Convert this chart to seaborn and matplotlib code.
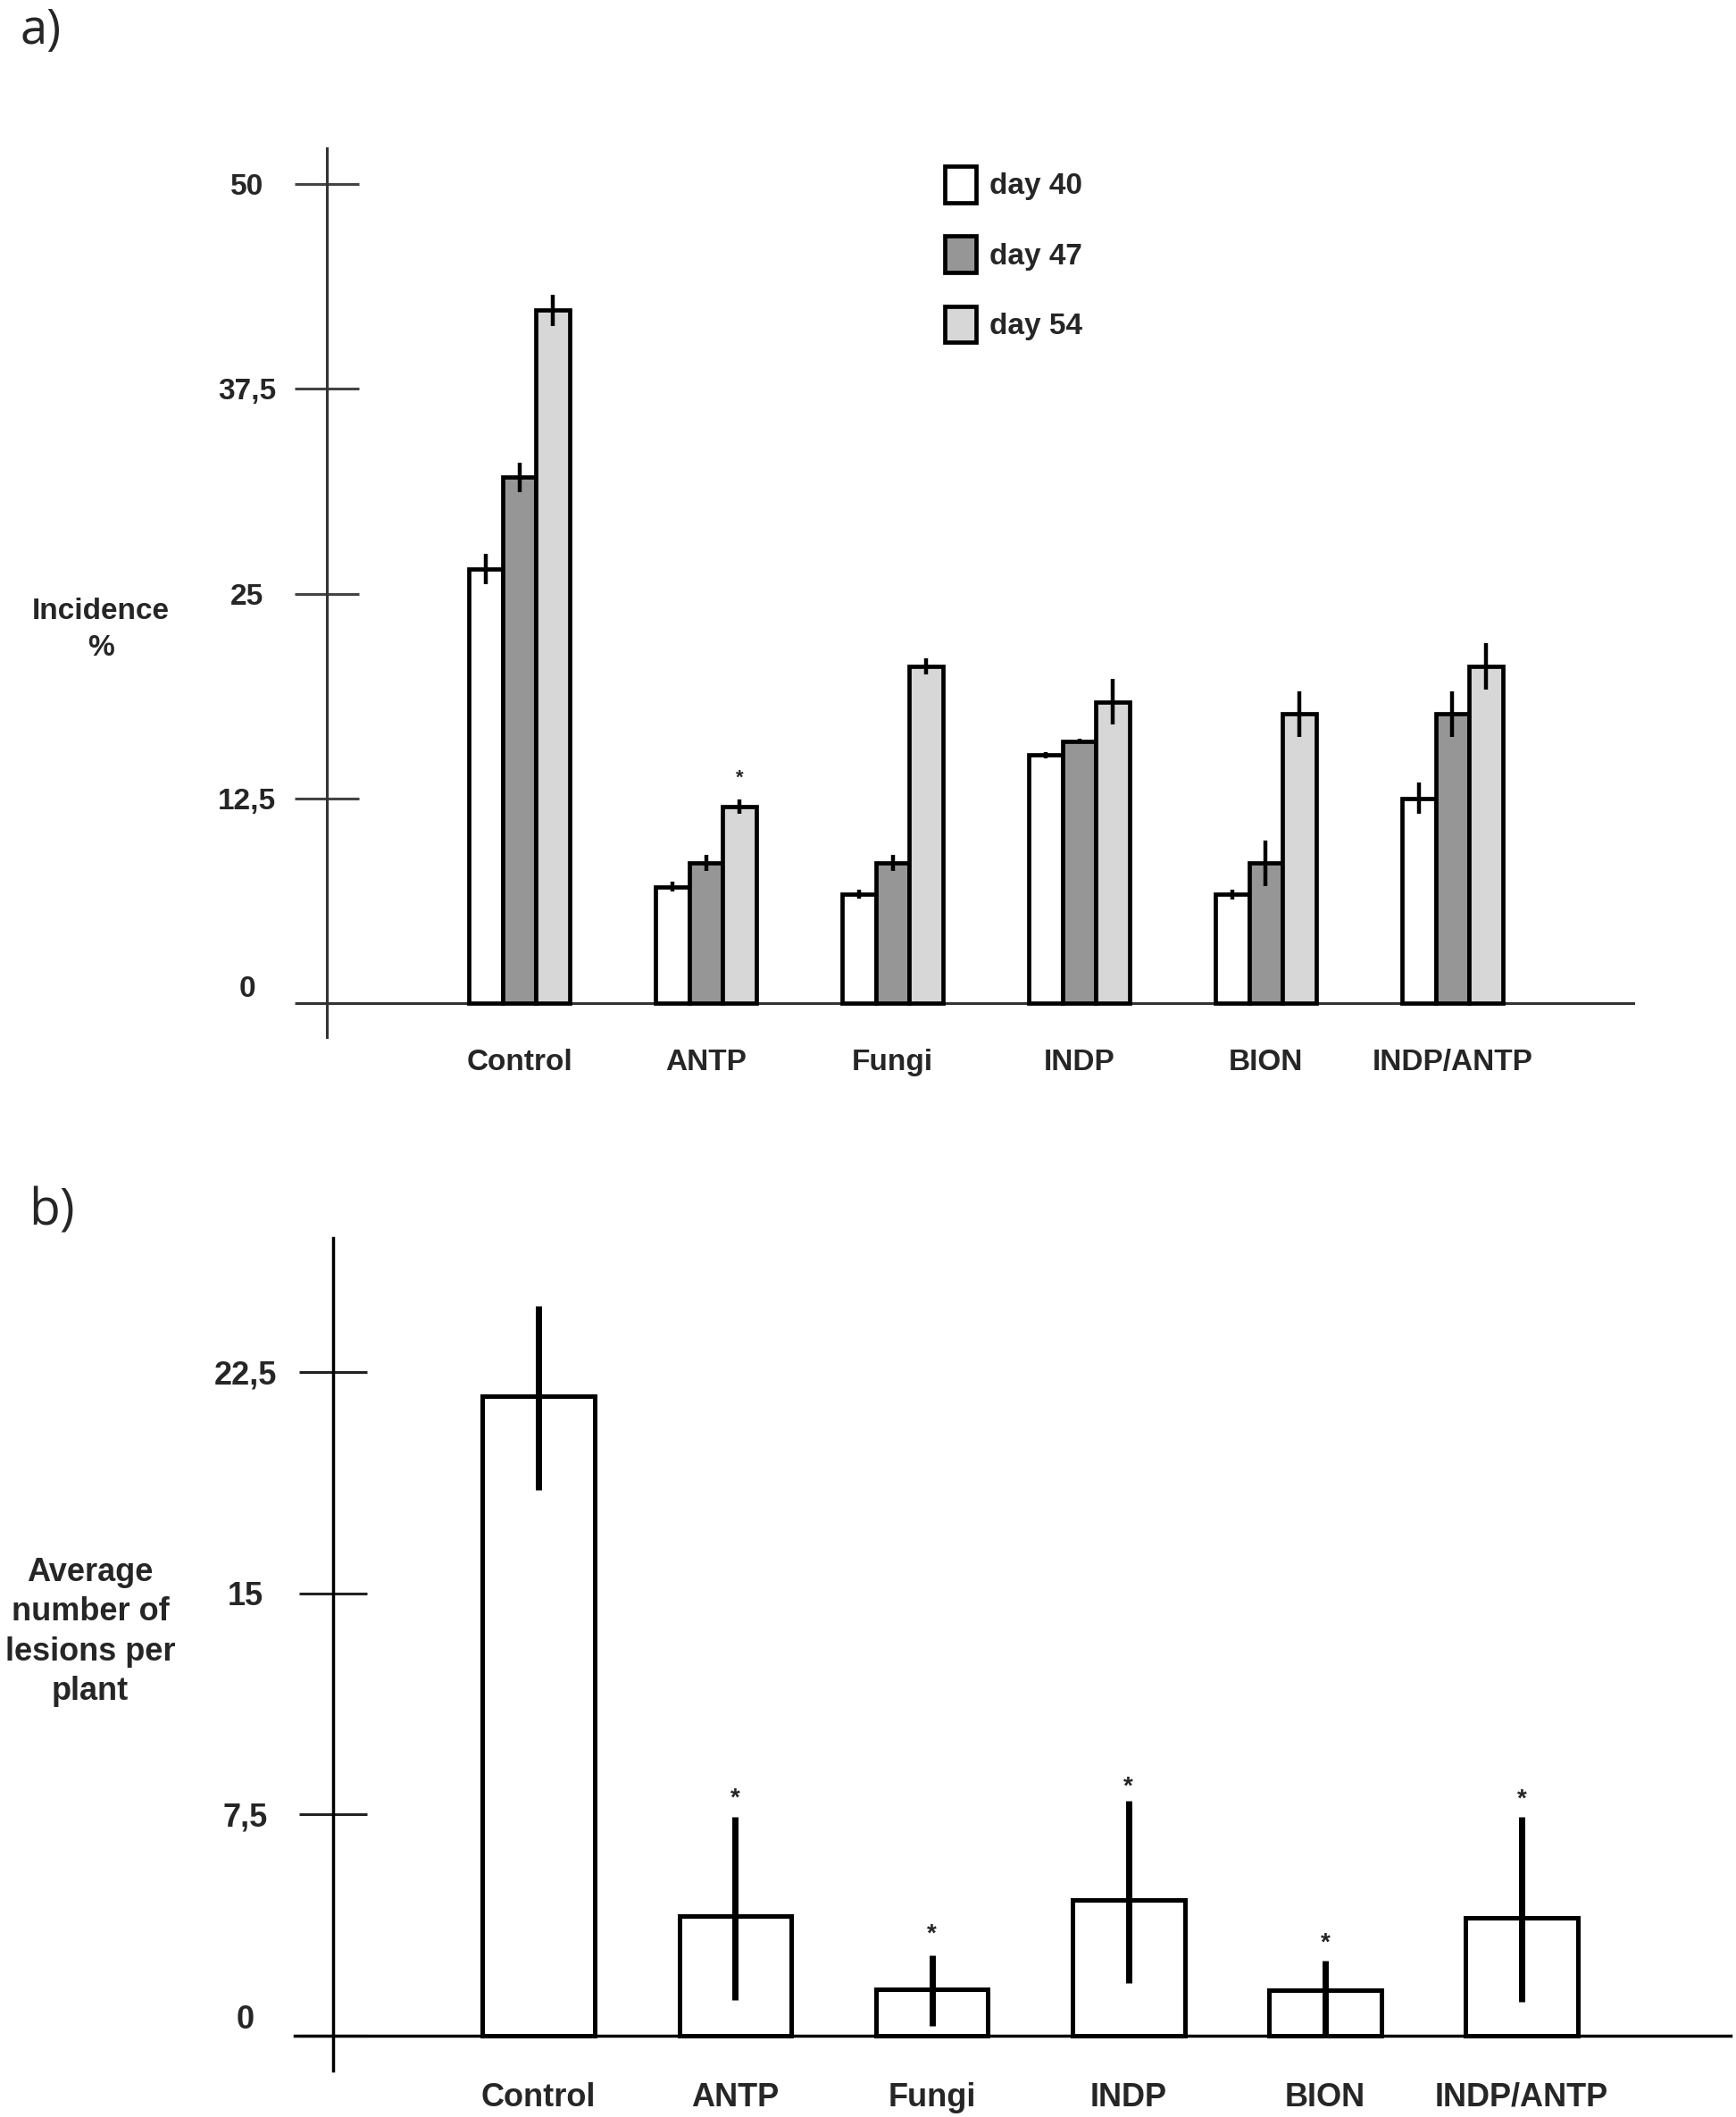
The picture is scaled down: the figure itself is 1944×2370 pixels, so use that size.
import numpy as np
import pandas as pd
import seaborn as sns
import matplotlib.pyplot as plt

# ---------------- data ----------------
categories = ["Control", "ANTP", "Fungi", "INDP", "BION", "INDP/ANTP"]
days = ["day 40", "day 47", "day 54"]

# panel a: incidence (%)
day40 = [26.5, 7.1, 6.65, 15.15, 6.65, 12.5]
day47 = [32.1, 8.55, 8.55, 16.0, 8.55, 17.65]
day54 = [42.3, 12.0, 20.55, 18.4, 17.65, 20.55]
err40 = [0.9, 0.3, 0.25, 0.2, 0.3, 0.95]
err47 = [0.9, 0.5, 0.5, 0.15, 1.4, 1.4]
err54 = [0.95, 0.45, 0.5, 1.4, 1.4, 1.4]
star_a_y = 14.1  # asterisk above ANTP, day 54

yticks_a = [0, 12.5, 25, 37.5, 50]
yticklabels_a = ["0", "12,5", "25", "37,5", "50"]

# panel b: average number of lesions per plant
lesions = [21.7, 4.04, 1.56, 4.6, 1.52, 4.0]
err_lo_b = [3.2, 2.84, 1.24, 2.83, 1.52, 2.86]
err_hi_b = [3.05, 3.38, 1.15, 3.36, 1.01, 3.42]
star_b_y = [None, 8.3, 3.7, 8.7, 3.4, 8.26]

yticks_b = [0, 7.5, 15, 22.5]
yticklabels_b = ["0", "7,5", "15", "22,5"]

colors_a = ["#ffffff", "#969696", "#d7d7d7"]

# ---------------- style ----------------
sns.set_theme(style="white")
plt.rcParams['font.family'] = ['Liberation Sans', 'DejaVu Sans']

W, H = 1944, 2370
fig = plt.figure(figsize=(W / 100, H / 100), dpi=100)


def fx(px):
    return px / W


def fy(py):
    return 1 - py / H


# ================= panel a =================
axA = fig.add_axes([0.1713, 0.5068, 0.7696, 0.4295])
df_a = pd.DataFrame({
    "Treatment": categories * 3,
    "Day": np.repeat(days, len(categories)),
    "Incidence": day40 + day47 + day54,
})
sns.barplot(data=df_a, x="Treatment", y="Incidence", hue="Day",
            order=categories, hue_order=days, palette=colors_a,
            saturation=1, width=0.54, errorbar=None,
            edgecolor="black", linewidth=3.4, ax=axA, zorder=3)

for cont, errs in zip(axA.containers, [err40, err47, err54]):
    xs = [p.get_x() + p.get_width() / 2 for p in cont]
    hs = [p.get_height() for p in cont]
    axA.errorbar(xs, hs, yerr=errs, fmt='none', ecolor='black',
                 elinewidth=3.2, capsize=0, zorder=5)

# asterisk above ANTP day 54
p = axA.containers[2][1]
axA.annotate("*", (p.get_x() + p.get_width() / 2, star_a_y),
             xytext=(0, -9), textcoords='offset points',
             ha='center', va='baseline', fontsize=16, fontweight='bold')

axA.set_xlim(-1.19, 5.97)
axA.set_ylim(-2.5, 53)
for s in ['top', 'right']:
    axA.spines[s].set_visible(False)
axA.spines['left'].set_position(('data', -1.03))
axA.spines['left'].set_bounds(-2.07, 52.2)
axA.spines['bottom'].set_position(('data', 0))
for s in ['left', 'bottom']:
    axA.spines[s].set_color('#333333')
    axA.spines[s].set_linewidth(2.2)
    axA.spines[s].set_zorder(2)

axA.set_yticks(yticks_a)
axA.set_yticklabels(yticklabels_a)
axA.tick_params(axis='y', direction='inout', length=51.8, width=2.2,
                color='#444444', pad=38.9, labelsize=24, left=True)
plt.setp(axA.get_yticklabels(), fontweight='bold', ha='center')
axA.get_yticklabels()[0].set_va('bottom')
axA.tick_params(axis='x', length=0, pad=37, labelsize=24)
plt.setp(axA.get_xticklabels(), fontweight='bold')
axA.set_xlabel("")
axA.set_ylabel("")

sns.move_legend(axA, "upper left", bbox_to_anchor=(fx(1058), fy(186)),
                bbox_transform=fig.transFigure, frameon=False, title=None,
                prop={'weight': 'bold', 'size': 24}, handlelength=1.05,
                handleheight=1.5, labelspacing=1.13, handletextpad=0.45,
                borderpad=0, borderaxespad=0)

fig.text(fx(113), fy(705), "Incidence\n%", ha='center', va='center',
         fontsize=24, fontweight='bold', linespacing=1.45)
fig.text(fx(22), fy(49), "a)", ha='left', va='baseline', fontsize=39,
         family=['Open Sans', 'DejaVu Sans'])

# ================= panel b =================
axB = fig.add_axes([0.1698, 0.01772, 0.8269, 0.4107])
df_b = pd.DataFrame({"Treatment": categories, "Lesions": lesions})
sns.barplot(data=df_b, x="Treatment", y="Lesions", order=categories,
            color="white", saturation=1, width=0.57, errorbar=None,
            edgecolor="black", linewidth=3.6, ax=axB, zorder=3)

contB = axB.containers[0]
xsB = [p.get_x() + p.get_width() / 2 for p in contB]
hsB = [p.get_height() for p in contB]
axB.errorbar(xsB, hsB, yerr=[err_lo_b, err_hi_b], fmt='none', ecolor='black',
             elinewidth=5, capsize=0, zorder=5)
for x, sy in zip(xsB, star_b_y):
    if sy is not None:
        axB.annotate("*", (x, sy), xytext=(0, -11.5),
                     textcoords='offset points', ha='center', va='baseline',
                     fontsize=20, fontweight='bold')

axB.set_xlim(-1.24, 6.06)
axB.set_ylim(-1.5, 28)
for s in ['top', 'right']:
    axB.spines[s].set_visible(False)
axB.spines['left'].set_position(('data', -1.045))
axB.spines['left'].set_bounds(-1.19, 27.05)
axB.spines['bottom'].set_position(('data', 0))
for s in ['left', 'bottom']:
    axB.spines[s].set_color('black')
    axB.spines[s].set_linewidth(2.5)
    axB.spines[s].set_zorder(2)

axB.set_yticks(yticks_b)
axB.set_yticklabels(yticklabels_b)
axB.tick_params(axis='y', direction='inout', length=55.4, width=2.2,
                color='#222222', pad=42.9, labelsize=26, left=True)
plt.setp(axB.get_yticklabels(), fontweight='bold', ha='center')
axB.get_yticklabels()[0].set_va('bottom')
axB.tick_params(axis='x', length=0, pad=37.5, labelsize=26)
plt.setp(axB.get_xticklabels(), fontweight='bold')
axB.set_xlabel("")
axB.set_ylabel("")

fig.text(fx(101), fy(1827), "Average\nnumber of\nlesions per\nplant",
         ha='center', va='center', fontsize=26, fontweight='bold',
         linespacing=1.35)
fig.text(fx(32), fy(1371), "b)", ha='left', va='baseline', fontsize=41,
         family=['Open Sans', 'DejaVu Sans'])

fig.savefig("out.png", dpi=100, facecolor='white')
